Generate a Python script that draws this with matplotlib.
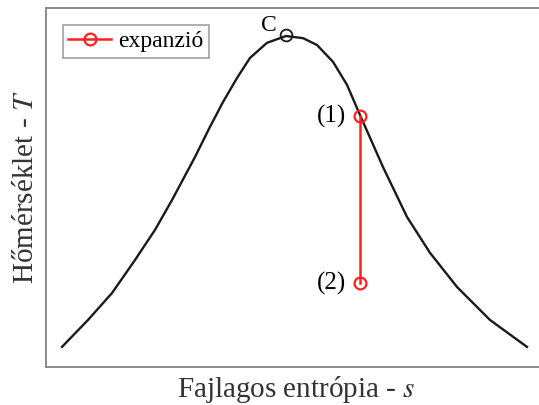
import matplotlib
matplotlib.use("Agg")
import matplotlib.pyplot as plt

# saturation dome (arbitrary units)
dome_s = [0.32, 0.84, 1.32, 1.78, 2.18, 2.52, 2.98, 3.28, 3.54, 3.82, 4.08, 4.42,
          4.80, 5.14, 5.42, 5.74, 6.02, 6.28, 6.74, 7.22, 7.68, 8.22, 8.88, 9.62]
dome_T = [0.56, 1.31, 2.06, 2.98, 3.82, 4.65, 5.85, 6.69, 7.38, 8.05, 8.61, 9.03,
          9.22, 9.16, 8.97, 8.50, 7.86, 7.02, 5.57, 4.18, 3.18, 2.23, 1.31, 0.56]

# critical point
crit_s = [4.80]
crit_T = [9.25]

# expansion process (1) -> (2)
exp_s = [6.28, 6.28]
exp_T = [6.99, 2.34]
exp_labels = ["(1)", "(2)"]

plt.rcParams['font.family'] = ['Liberation Serif', 'DejaVu Serif']
plt.rcParams['mathtext.fontset'] = 'stix'

fig = plt.figure(figsize=(5.39, 4.05), dpi=100)
ax = fig.add_axes([46/539, 38/405, 500/539, 359/405])

ax.plot(dome_s, dome_T, color='#1a1a1a', lw=1.7, zorder=2,
        solid_joinstyle='round')
ax.plot(crit_s, crit_T, 'o', mfc='none', mec='#1a1a1a', ms=8.5, mew=1.3, zorder=3)
ax.text(crit_s[0] - 0.18, crit_T[0] - 0.02, "C", fontsize=17, ha='right', va='bottom')

ax.plot(exp_s, exp_T, '-o', color='#ff2020', mfc='none', mec='#ff2020', ms=8.5,
        mew=1.6, lw=1.8, label='expanzió', zorder=4)
for s, T, lab in zip(exp_s, exp_T, exp_labels):
    ax.text(s - 0.28, T, lab, fontsize=18, ha='right', va='center')

ax.set_xlim(0, 10)
ax.set_ylim(0, 10)
ax.set_xticks([])
ax.set_yticks([])
for side in ['left', 'bottom', 'top']:
    ax.spines[side].set_color('#8a8a8a')
    ax.spines[side].set_linewidth(1.4)
ax.spines['right'].set_visible(False)

ax.set_xlabel("Fajlagos entrópia - $s$", fontsize=21, color='#333333', labelpad=5)
ax.set_ylabel("Hőmérséklet - $T$", fontsize=21, color='#333333', labelpad=5)

leg = ax.legend(loc='upper left', fontsize=17, frameon=True, fancybox=False,
                edgecolor='#8a8a8a', handlelength=1.8, handletextpad=0.3,
                borderpad=0.25, borderaxespad=0.7)
leg.get_frame().set_linewidth(1.2)

fig.savefig("out.png", dpi=100)
